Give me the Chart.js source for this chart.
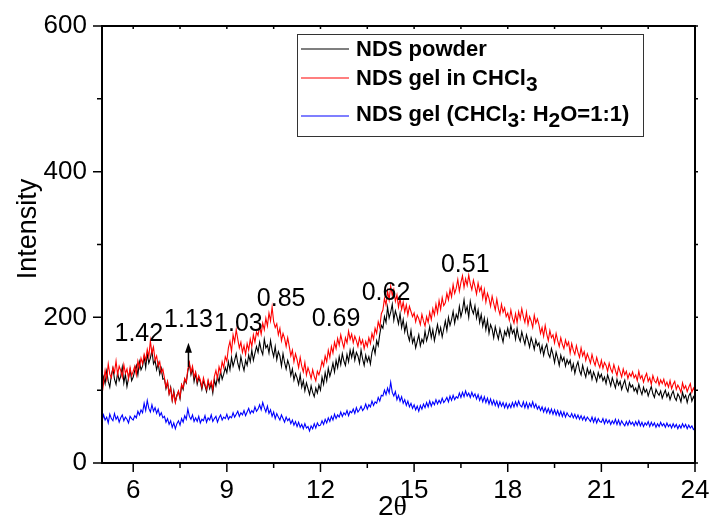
<!DOCTYPE html>
<html><head><meta charset="utf-8">
<script src="https://cdn.jsdelivr.net/npm/chart.js@4.4.1/dist/chart.umd.min.js"></script>
<style>html,body{margin:0;padding:0;background:#fff;}#wrap{width:712px;height:517px;}</style>
</head><body><div id="wrap"><canvas id="c" width="712" height="517"></canvas></div>
<script>
// 2θ grid of the scans (degrees)
const thetaStart = 5;
const thetaStep = 0.05;

const ndsPowder = [
100,118,109,126,112,104,121,130,115,108,124,113,119,132,110,122,105,117,128,113,
118,127,134,121,139,128,133,146,131,150,137,144,155,136,141,128,137,122,130,115,
116,102,111,95,104,86,99,84,93,98,88,107,101,115,110,126,136,121,130,112,
123,108,117,111,101,113,106,98,112,102,109,96,114,106,119,111,126,115,122,131,
124,139,128,145,133,141,150,137,129,146,135,127,141,134,148,139,155,141,151,160,
152,166,155,149,170,158,162,151,168,155,146,160,142,153,147,133,150,138,129,141,
134,120,129,114,123,117,108,121,104,113,99,110,102,94,106,97,91,103,96,107,
100,118,108,124,113,130,119,127,137,125,141,131,146,135,150,140,134,149,139,155,
145,156,141,152,147,137,155,143,134,148,139,146,136,152,160,150,168,161,177,189,
185,201,193,214,199,207,218,196,209,201,191,205,186,197,180,191,176,168,182,165,
172,158,167,176,161,170,165,181,168,176,187,172,183,168,179,190,177,186,173,184,
195,182,200,189,197,208,192,204,198,215,201,210,224,207,215,200,222,211,205,216,
199,210,193,204,188,199,183,196,178,190,184,172,187,178,170,184,175,166,181,175,
185,174,189,178,183,170,185,173,167,180,171,163,176,168,159,172,165,156,169,161,
165,152,161,148,158,163,150,145,157,149,138,152,144,134,148,140,145,133,142,136,
141,128,136,123,133,139,127,121,134,125,118,130,122,127,115,125,119,112,124,117,
122,113,118,109,121,114,106,117,110,103,115,107,112,101,108,114,103,98,110,104,
107,99,103,96,108,100,94,104,97,101,92,99,105,95,90,101,96,93,99,89,
95,100,91,96,87,94,99,90,86,95,91,84,97,89,93,83,92,96,85,91,
87];

const ndsGelCHCl3 = [
93,110,127,115,136,122,117,131,124,140,121,133,127,118,135,123,129,116,131,120,
126,133,121,140,131,144,136,149,141,156,146,168,150,159,141,147,133,139,124,129,
117,104,112,95,103,86,97,83,92,99,90,108,103,116,111,129,138,124,133,118,
125,112,120,114,104,117,108,101,114,105,112,101,119,127,116,132,124,139,131,146,
140,158,167,153,176,166,183,170,158,166,152,161,149,164,155,170,160,176,166,180,
175,188,177,192,183,199,188,206,195,214,194,186,191,176,185,168,178,171,160,172,
160,147,155,139,150,142,131,145,133,125,138,121,131,124,116,128,119,113,126,121,
129,140,133,147,139,155,145,160,151,166,157,171,162,176,166,158,172,165,181,170,
177,165,174,168,160,172,163,169,157,167,160,172,164,178,170,185,178,194,186,205,
210,226,217,236,224,243,230,238,222,231,214,226,211,221,207,217,203,215,208,201,
206,194,203,198,190,204,195,188,201,193,207,197,212,203,218,206,223,211,227,216,
220,233,224,238,228,245,233,240,252,236,248,257,241,253,244,258,246,238,251,242,
232,247,236,242,226,238,221,233,226,215,229,219,210,225,212,204,218,207,213,201,
206,196,210,199,192,205,193,208,198,212,201,193,207,190,201,195,186,203,192,198,
190,178,186,174,189,177,168,182,172,176,165,178,168,160,172,163,157,169,161,166,
151,164,155,149,161,152,145,158,147,153,141,150,144,137,149,140,134,145,137,131,
141,130,138,134,126,137,129,124,135,127,120,132,125,118,129,121,126,116,123,119,
125,117,121,113,126,116,120,111,118,123,112,117,108,120,113,110,117,107,114,109,
115,106,111,104,113,102,108,112,101,107,103,97,110,102,106,98,104,109,97,103,
98];

const ndsGelMixed = [
57,66,59,63,55,67,61,58,68,60,64,56,62,66,58,63,60,55,64,61,
59,65,62,71,66,73,69,82,72,86,75,70,80,71,76,68,74,65,69,62,
64,56,61,53,58,49,55,47,54,58,52,61,56,65,60,74,64,60,66,57,
62,57,64,55,60,58,65,56,62,59,66,57,61,64,56,62,66,59,63,61,
67,60,64,62,69,63,67,71,64,69,66,72,65,70,75,68,72,69,77,71,
74,80,73,83,76,70,78,68,73,64,70,61,68,63,59,66,61,56,63,58,
61,54,59,52,57,50,56,49,53,47,54,48,50,44,51,47,54,48,55,51,
52,58,53,60,55,62,57,64,59,67,61,66,63,70,64,69,66,72,65,71,
69,74,68,76,70,73,78,72,75,81,74,80,77,85,79,84,82,90,85,93,
92,100,94,103,96,111,97,92,98,87,93,85,91,82,87,79,85,77,82,75,
80,73,78,71,79,74,81,76,83,77,85,78,84,80,87,81,86,82,89,83,
86,90,84,92,86,93,87,91,89,96,90,97,91,99,92,96,90,97,91,95,
88,94,86,92,84,91,83,89,81,88,80,86,79,85,77,84,78,83,76,82,
75,81,76,83,77,84,78,85,79,77,84,76,83,75,82,77,84,76,81,74,
78,72,77,70,76,69,75,68,74,67,73,66,72,65,71,64,70,63,69,65,
63,68,62,67,61,66,60,65,59,64,58,63,60,57,63,56,62,55,61,57,
56,61,54,60,55,59,53,58,54,60,53,59,52,58,54,51,57,52,58,53,
56,51,57,52,58,51,56,50,55,52,57,50,56,51,55,49,54,50,56,51,
54,49,55,50,53,48,54,49,53,47,52,48,54,49,53,47,52,48,51,46,
48];

const seriesLabels = ['NDS powder', 'NDS gel in CHCl_3', 'NDS gel (CHCl_3: H_2O=1:1)'];
const seriesColors = ['#000000', '#ff0000', '#0000ff'];

const xTickValues = [6, 9, 12, 15, 18, 21, 24];
const xMinorTicks = [7.5, 10.5, 13.5, 16.5, 19.5, 22.5];
const yTickValues = [0, 200, 400, 600];
const yMinorTicks = [100, 300, 500];

// d-spacing annotations (nm) and their positions in data coordinates
const peakLabels = ['1.42', '1.13', '1.03', '0.85', '0.69', '0.62', '0.51'];
const peakLabelX = [6.18, 7.77, 9.37, 10.74, 12.5, 14.1, 16.64];
const peakLabelY = [177, 196, 191, 225, 198, 233, 272];
const arrowX = 7.77, arrowTipY = 165, arrowTailY = 132;

const xTitle = '2θ';
const yTitle = 'Intensity';

function toPoints(arr) {
  return arr.map((v, i) => ({ x: +(thetaStart + i * thetaStep).toFixed(3), y: v }));
}

const SANS = '"Liberation Sans", Arial, sans-serif';
const SERIF = '"Liberation Serif", "Times New Roman", serif';

function drawRich(ctx, text, x, y, size, weight) {
  // '_c' marks a subscript character
  let cx = x;
  for (let i = 0; i < text.length; i++) {
    let ch = text[i];
    if (ch === '_' && i + 1 < text.length) {
      ch = text[++i];
      ctx.font = weight + ' ' + Math.round(size * 0.95) + 'px ' + SANS;
      ctx.fillText(ch, cx, y + 6);
      cx += ctx.measureText(ch).width;
    } else {
      ctx.font = weight + ' ' + size + 'px ' + SANS;
      ctx.fillText(ch, cx, y);
      cx += ctx.measureText(ch).width;
    }
  }
}

const decor = {
  id: 'decor',
  afterDraw(chart) {
    const { ctx, chartArea: a, scales: { x, y } } = chart;
    ctx.save();
    ctx.strokeStyle = '#000';
    ctx.fillStyle = '#000';
    ctx.lineWidth = 2;
    ctx.strokeRect(a.left, a.top, a.right - a.left, a.bottom - a.top);
    ctx.beginPath();
    xTickValues.forEach(v => {
      const px = x.getPixelForValue(v);
      ctx.moveTo(px, a.bottom); ctx.lineTo(px, a.bottom + 9);
      ctx.moveTo(px, a.top); ctx.lineTo(px, a.top + 3);
    });
    xMinorTicks.forEach(v => {
      const px = x.getPixelForValue(v);
      ctx.moveTo(px, a.bottom); ctx.lineTo(px, a.bottom + 5);
      ctx.moveTo(px, a.top); ctx.lineTo(px, a.top + 3);
    });
    yTickValues.forEach(v => {
      const py = y.getPixelForValue(v);
      ctx.moveTo(a.left, py); ctx.lineTo(a.left - 9, py);
      ctx.moveTo(a.right, py); ctx.lineTo(a.right + 3, py);
    });
    yMinorTicks.forEach(v => {
      const py = y.getPixelForValue(v);
      ctx.moveTo(a.left, py); ctx.lineTo(a.left - 5, py);
      ctx.moveTo(a.right, py); ctx.lineTo(a.right + 3, py);
    });
    ctx.lineWidth = 1.5;
    ctx.stroke();

    // axis titles
    ctx.textBaseline = 'alphabetic';
    ctx.textAlign = 'center';
    ctx.save();
    ctx.translate(36, 229);
    ctx.rotate(-Math.PI / 2);
    ctx.font = '27px ' + SANS;
    ctx.fillText(yTitle, 0, 0);
    ctx.restore();
    ctx.textAlign = 'left';
    ctx.font = '28px ' + SANS;
    const two = xTitle[0];
    ctx.fillText(two, 378, 515);
    const w2 = ctx.measureText(two).width;
    ctx.font = '28px ' + SERIF;
    ctx.fillText(xTitle.slice(1), 378 + w2, 515);

    // peak labels
    ctx.textAlign = 'center';
    ctx.textBaseline = 'middle';
    ctx.font = '25px ' + SANS;
    peakLabels.forEach((t, i) => {
      ctx.fillText(t, x.getPixelForValue(peakLabelX[i]), y.getPixelForValue(peakLabelY[i]));
    });

    // arrow
    const ax = x.getPixelForValue(arrowX);
    const tipY = y.getPixelForValue(arrowTipY);
    const tailY = y.getPixelForValue(arrowTailY);
    ctx.beginPath();
    ctx.moveTo(ax, tipY + 8); ctx.lineTo(ax, tailY);
    ctx.lineWidth = 1.5; ctx.stroke();
    ctx.beginPath();
    ctx.moveTo(ax, tipY); ctx.lineTo(ax - 3.5, tipY + 10); ctx.lineTo(ax + 3.5, tipY + 10);
    ctx.closePath(); ctx.fill();

    // legend
    ctx.lineWidth = 1;
    ctx.strokeStyle = '#333';
    ctx.strokeRect(297.5, 34.5, 346, 102);
    const rowLineY = [49, 78, 116];
    const rowTextY = [56, 85, 121];
    ctx.textAlign = 'left';
    ctx.textBaseline = 'alphabetic';
    chart.data.datasets.forEach((ds, i) => {
      ctx.beginPath();
      ctx.strokeStyle = ds.borderColor;
      ctx.lineWidth = 1.2;
      ctx.moveTo(301, rowLineY[i]); ctx.lineTo(349, rowLineY[i]);
      ctx.stroke();
      ctx.fillStyle = '#000';
      drawRich(ctx, ds.label, 356, rowTextY[i], 22, 'bold');
    });
    ctx.restore();
  }
};

const datasets = [ndsPowder, ndsGelCHCl3, ndsGelMixed].map((arr, i) => ({
  label: seriesLabels[i],
  data: toPoints(arr),
  borderColor: seriesColors[i],
  backgroundColor: seriesColors[i],
  borderWidth: 1.1,
  pointRadius: 0,
  tension: 0,
  fill: false,
  order: [2, 1, 0][i]
}));

const tickFont = { family: SANS, size: 26 };

function zeroPad(s) { s.paddingLeft = 0; s.paddingRight = 0; s.paddingTop = 0; s.paddingBottom = 0; }

new Chart(document.getElementById('c'), {
  type: 'line',
  data: { datasets },
  options: {
    responsive: false,
    animation: false,
    devicePixelRatio: 1,
    layout: { padding: { left: 0, right: 17, top: 26, bottom: 0 } },
    plugins: { legend: { display: false }, tooltip: { enabled: false }, title: { display: false } },
    scales: {
      x: {
        type: 'linear', min: 5, max: 24,
        grid: { display: false, drawTicks: false },
        border: { display: false },
        afterBuildTicks: s => { s.ticks = xTickValues.map(v => ({ value: v })); },
        afterFit: s => { s.height = 54; zeroPad(s); },
        ticks: { font: tickFont, color: '#000', padding: 12, maxRotation: 0, autoSkip: false }
      },
      y: {
        type: 'linear', min: 0, max: 600,
        grid: { display: false, drawTicks: false },
        border: { display: false },
        afterBuildTicks: s => { s.ticks = yTickValues.map(v => ({ value: v })); },
        afterFit: s => { s.width = 102; zeroPad(s); },
        ticks: { font: tickFont, color: '#000', padding: 15, autoSkip: false }
      }
    }
  },
  plugins: [decor]
});
</script>
</body></html>
